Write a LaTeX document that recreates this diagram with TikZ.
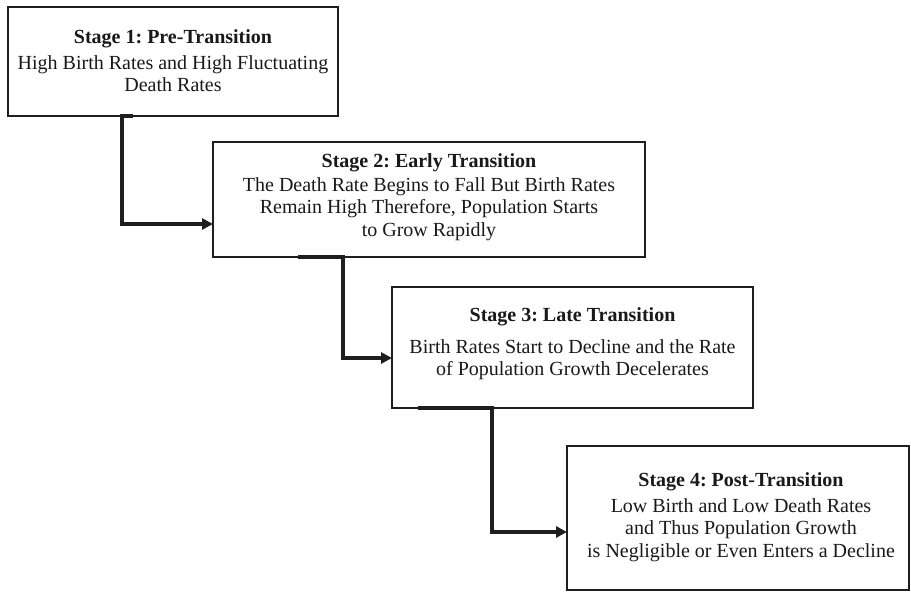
\documentclass[tikz,border=0pt]{standalone}
\usepackage{fontspec}
\setmainfont{Liberation Serif}
\usetikzlibrary{arrows.meta}
\frenchspacing
\tikzset{
  stagebox/.style={draw=black!88, line width=1.8pt, rectangle, anchor=north west, inner sep=0pt, outer sep=0pt},
  stagetext/.style={anchor=north, align=center, inner sep=0pt, text=black!90, font=\fontsize{20}{22.5}\selectfont},
  conn/.style={draw=black!88, line width=3.4pt, line join=miter, -{Triangle[length=11pt,width=11pt]}}
}
\begin{document}
\begin{tikzpicture}[x=1pt,y=-1pt]
\fill[white] (0,0) rectangle (911,592);
\useasboundingbox (0,0) rectangle (911,592);

\node[stagebox, minimum width=330pt, minimum height=109pt] (b1) at (8,7) {};
\node[stagebox, minimum width=432pt, minimum height=115pt] (b2) at (213,142) {};
\node[stagebox, minimum width=361pt, minimum height=121pt] (b3) at (392,287) {};
\node[stagebox, minimum width=342pt, minimum height=144pt] (b4) at (567,446) {};

\node[stagetext] (t1) at ([yshift=-22.5pt]b1.north) {\textbf{Stage 1: Pre-Transition}\\[3pt] High Birth Rates and High Fluctuating\\ Death Rates};
\node[stagetext] (t2) at ([yshift=-11.5pt]b2.north) {\textbf{Stage 2: Early Transition}\\[1pt] The Death Rate Begins to Fall But Birth Rates\\ Remain High Therefore, Population Starts\\ to Grow Rapidly};
\node[stagetext] (t3) at ([yshift=-20.5pt]b3.north) {\textbf{Stage 3: Late Transition}\\[9pt] Birth Rates Start to Decline and the Rate\\ of Population Growth Decelerates};
\node[stagetext] (t4) at ([xshift=3pt,yshift=-26.5pt]b4.north) {\textbf{Stage 4: Post-Transition}\\[3pt] Low Birth and Low Death Rates\\ and Thus Population Growth\\ is Negligible or Even Enters a Decline};

\draw[conn] ([xshift=125pt]b1.south west) -- ([xshift=114pt]b1.south west) |- ([yshift=-82pt]b2.north west);
\draw[conn] ([xshift=85pt]b2.south west) -- ([xshift=130pt]b2.south west) |- ([yshift=-71pt]b3.north west);
\draw[conn] ([xshift=26pt]b3.south west) -- ([xshift=100pt]b3.south west) |- ([yshift=-86pt]b4.north west);
\end{tikzpicture}
\end{document}
